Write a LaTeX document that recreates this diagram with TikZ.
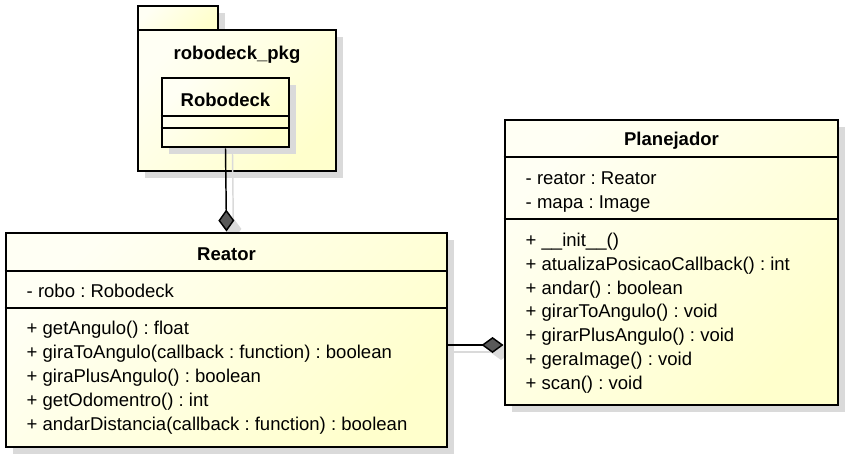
\documentclass[tikz,border=0pt]{standalone}
\usepackage{fontspec}
\setmainfont{Liberation Sans}
\usetikzlibrary{arrows.meta,shadows,fit}

\definecolor{umllight}{RGB}{255,255,244}
\definecolor{umlyellow}{RGB}{255,255,204}
\definecolor{umlshadow}{RGB}{218,218,218}
\newcommand{\umlfont}{\fontsize{13.9}{17}\selectfont\frenchspacing}

\tikzset{
  umlbox/.style={draw, line width=2.2pt, inner sep=0pt,
    top color=umllight, bottom color=umlyellow, shading angle=45,
    drop shadow={shadow xshift=5.25pt, shadow yshift=-5.25pt, fill=umlshadow, opacity=1}},
  sepline/.style={line width=1pt},
  classname/.style={anchor=base, font=\umlfont\bfseries},
  member/.style={anchor=base west},
  composition/.style={line width=1.1pt, -{Diamond[length=16.5pt, width=12pt, fill=black!65]}},
  compshadow/.style={draw=umlshadow, line width=1.1pt, -{Diamond[length=16.5pt, width=12pt, fill=umlshadow]}}
}

\begin{document}
\begin{tikzpicture}[x=0.75pt, y=-0.75pt, font=\umlfont]
  \useasboundingbox (0,0) rectangle (849,460);

  %% package
  \node[umlbox, fit={(138,6) (218,30)}] (pkgtab) {};
  \node[umlbox, fit={(138,30) (336,171)}] (pkg) {};
  \node[classname] at (237,60) {robodeck\_pkg};

  %% shadows of the connectors
  \coordinate (assoc) at (0,345);
  \draw[compshadow] ([shift={(7,7)}]225.5,147) -- ([shift={(7,7)}]226.5,233);
  \draw[compshadow] ([shift={(7,7)}]447,345) -- ([shift={(7,7)}]505,345);

  %% Robodeck
  \node[umlbox, fit={(162,78) (289,147)}] (robodeck) {};
  \node[classname] at (225.5,106) {Robodeck};
  \draw[sepline] (robodeck.west |- 0,116) -- (robodeck.east |- 0,116);
  \draw[sepline] (robodeck.west |- 0,128) -- (robodeck.east |- 0,128);

  %% Reator
  \node[umlbox, fit={(6,233) (447,447)}] (reator) {};
  \node[classname] at (226.5,260) {Reator};
  \draw[sepline] (reator.west |- 0,271) -- (reator.east |- 0,271);
  \node[member] at (22,297) {- robo : Robodeck};
  \draw[sepline] (reator.west |- 0,308) -- (reator.east |- 0,308);
  \node[member] at (22,334) {+ getAngulo() : float};
  \node[member] at (22,358) {+ giraToAngulo(callback : function) : boolean};
  \node[member] at (22,382) {+ giraPlusAngulo() : boolean};
  \node[member] at (22,406) {+ getOdomentro() : int};
  \node[member] at (22,430) {+ andarDistancia(callback : function) : boolean};

  %% Planejador
  \node[umlbox, fit={(505,120) (838,405)}] (planejador) {};
  \node[classname] at (671.5,145) {Planejador};
  \draw[sepline] (planejador.west |- 0,157) -- (planejador.east |- 0,157);
  \node[member] at (521,184) {- reator : Reator};
  \node[member] at (521,208) {- mapa : Image};
  \draw[sepline] (planejador.west |- 0,219) -- (planejador.east |- 0,219);
  \node[member] at (521,246) {+ \_\_init\_\_()};
  \node[member] at (521,270) {+ atualizaPosicaoCallback() : int};
  \node[member] at (521,294) {+ andar() : boolean};
  \node[member] at (521,317) {+ girarToAngulo() : void};
  \node[member] at (521,341) {+ girarPlusAngulo() : void};
  \node[member] at (521,365) {+ geraImage() : void};
  \node[member] at (521,389) {+ scan() : void};

  %% compositions
  \draw[composition] (robodeck.south) -- (reator.north);
  \draw[composition] (reator.east |- assoc) -- (planejador.west |- assoc);
\end{tikzpicture}
\end{document}
